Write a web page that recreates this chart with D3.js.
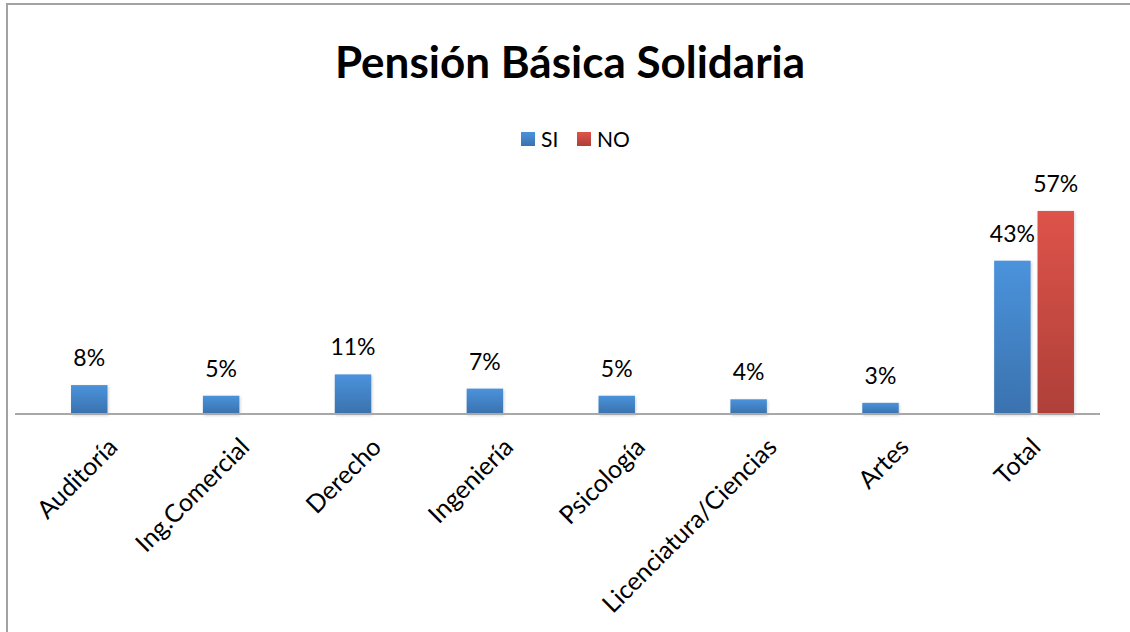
<!DOCTYPE html>
<html>
<head>
<meta charset="utf-8">
<script src="https://cdn.jsdelivr.net/npm/d3@7"></script>
<style>
  body { margin: 0; background: #fff; }
  text { font-family: Lato, "Open Sans", sans-serif; fill: #000; }
</style>
</head>
<body>
<svg id="chart" width="1130" height="632"></svg>
<script>
// categories and series (values in %)
let categories = ["Auditoría", "Ing.Comercial", "Derecho", "Ingeniería", "Psicología",
                  "Licenciatura/Ciencias", "Artes", "Total"];
let series = ["SI", "NO"];
let siValues = [8, 5, 11, 7, 5, 4, 3, 43];
let noValues = [null, null, null, null, null, null, null, 57];

let colors = {SI: ["#4b93dc", "#3a72ae"], NO: ["#de534a", "#ae4039"]};

let svg = d3.select("#chart");

// outer chart frame
svg.append("rect")
  .attr("x", 7).attr("y", 4)
  .attr("width", 1200).attr("height", 700)
  .attr("fill", "none")
  .attr("stroke", "#a3a3a3")
  .attr("stroke-width", 2);

let defs = svg.append("defs");
series.forEach(s => {
  let g = defs.append("linearGradient")
    .attr("id", "grad" + s)
    .attr("x1", 0).attr("y1", 0).attr("x2", 0).attr("y2", 1);
  g.append("stop").attr("offset", "0%").attr("stop-color", colors[s][0]);
  g.append("stop").attr("offset", "100%").attr("stop-color", colors[s][1]);
});
let blur = defs.append("filter").attr("id", "shadow")
  .attr("x", "-20%").attr("y", "-20%").attr("width", "140%").attr("height", "140%");
blur.append("feGaussianBlur").attr("stdDeviation", 1.5);

let x0 = d3.scaleBand()
  .domain(categories)
  .range([45, 1100]);

let x1 = d3.scaleBand()
  .domain(series)
  .range([0, x0.bandwidth()])
  .paddingInner(0.16)
  .paddingOuter(0.6);

let y = d3.scaleLinear()
  .domain([0, 60])
  .range([413.5, 200.3]);

// title
svg.append("text")
  .attr("x", 570).attr("y", 78)
  .attr("text-anchor", "middle")
  .style("font-size", "44px")
  .style("font-weight", "bold")
  .text("Pensión Básica Solidaria");

// legend
let legend = svg.append("g").attr("transform", "translate(521,132)");
let legX = [0, 56];
series.forEach((s, i) => {
  let item = legend.append("g").attr("transform", "translate(" + legX[i] + ",0)");
  item.append("rect")
    .attr("width", 14).attr("height", 14)
    .attr("fill", "url(#grad" + s + ")");
  item.append("text")
    .attr("x", 20).attr("y", 15)
    .style("font-size", "21px")
    .text(s);
});

let rows = categories.map((c, i) => ({cat: c, SI: siValues[i], NO: noValues[i]}));

let groups = svg.append("g")
  .selectAll("g")
  .data(rows)
  .enter()
  .append("g")
  .attr("transform", d => "translate(" + x0(d.cat) + ",0)");

let bars = groups.selectAll("g.bar")
  .data(d => series.map(s => ({key: s, value: d[s]})).filter(b => b.value != null))
  .enter()
  .append("g")
  .attr("class", "bar");

// soft shadow under bars
bars.append("rect")
  .attr("x", d => x1(d.key) + 1)
  .attr("y", d => y(d.value) + 1)
  .attr("width", x1.bandwidth())
  .attr("height", d => y(0) - y(d.value) + 1)
  .attr("fill", "#000")
  .attr("opacity", 0.18)
  .attr("filter", "url(#shadow)");

bars.append("rect")
  .attr("x", d => x1(d.key))
  .attr("y", d => y(d.value))
  .attr("width", x1.bandwidth())
  .attr("height", d => y(0) - y(d.value))
  .attr("fill", d => "url(#grad" + d.key + ")");

bars.append("text")
  .attr("x", d => x1(d.key) + x1.bandwidth() / 2)
  .attr("y", d => y(d.value) - 19)
  .attr("text-anchor", "middle")
  .style("font-size", "23px")
  .text(d => d.value + "%");

// category axis
let xAxis = svg.append("g")
  .attr("transform", "translate(0," + y(0) + ")")
  .call(d3.axisBottom(x0).tickSize(0).tickPadding(0));
xAxis.select(".domain")
  .attr("stroke", "#a8a8a8")
  .attr("stroke-width", 2)
  .attr("d", "M" + (x0.range()[0] - 30) + ",0.5H" + x0.range()[1]);
xAxis.selectAll(".tick text")
  .attr("y", 0).attr("dy", "0.35em")
  .attr("text-anchor", "end")
  .attr("transform", "translate(2,29) rotate(-45)")
  .style("font-family", "Lato, 'Open Sans', sans-serif")
  .style("font-size", "25px")
  .attr("fill", "#000");
</script>
</body>
</html>
